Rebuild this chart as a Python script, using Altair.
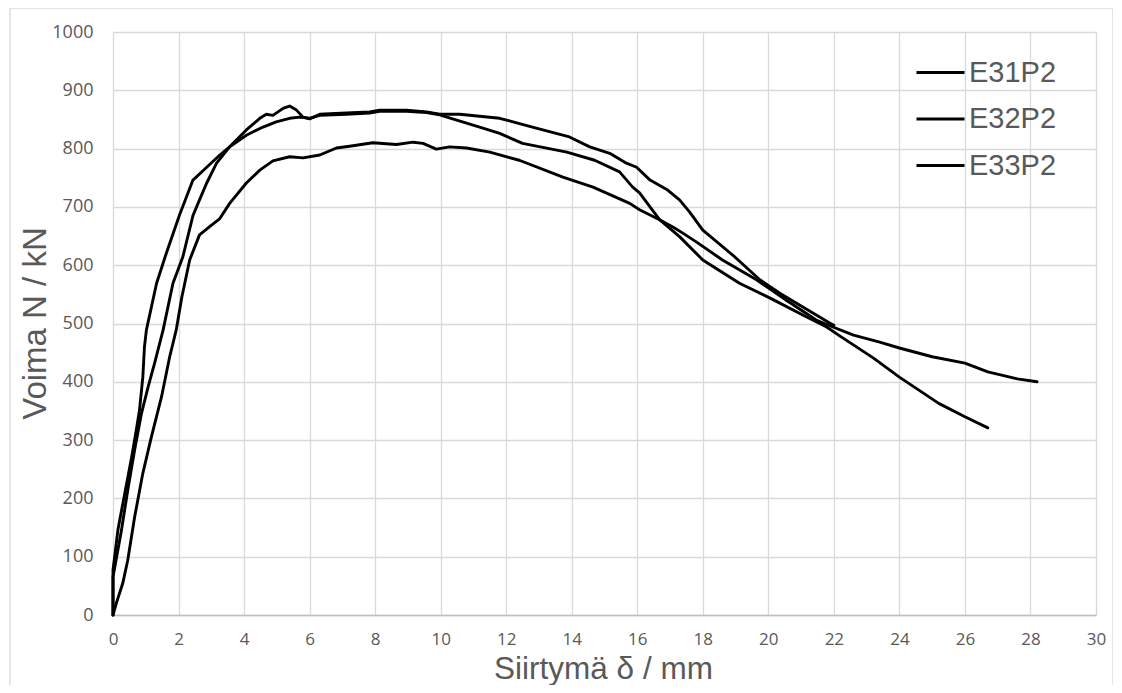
import altair as alt
import pandas as pd

series_names = ["E31P2", "E32P2", "E33P2"]

e31_x = [0, 0, 0.26, 0.45, 0.66, 0.87, 1.07, 1.27, 1.53, 1.83, 2.13, 2.44, 2.64, 2.86, 3.16, 3.56,
         4.07, 4.48, 4.68, 4.88, 5.19, 5.39, 5.6, 5.8, 6.0, 6.31, 7.12, 7.83, 8.14, 8.96, 9.57, 9.97,
         10.58, 11.8, 12.8, 13.93, 14.55, 15.16, 15.67, 15.98, 16.39, 16.9, 17.29, 17.6, 18.0, 18.92,
         19.74, 20.35, 21.36, 21.87, 22.0]
e31_y = [0, 65, 146, 214, 283, 346, 391, 432, 489, 569, 614, 685, 712, 741, 775, 803,
         832, 852, 859, 857, 869, 873, 866, 854, 851, 859, 861, 863, 866, 866, 863, 859,
         859, 852, 837, 820, 803, 792, 775, 768, 746, 730, 712, 691, 660, 617,
         575, 552, 518, 501, 497]

e32_x = [0, 0, 0.15, 0.36, 0.57, 0.71, 0.81, 0.91, 0.96, 1.02, 1.33, 1.63, 2.03, 2.44, 2.86, 3.26,
         3.56, 4.07, 4.58, 4.98, 5.39, 5.7, 6.0, 6.31, 7.12, 7.83, 8.14, 8.96, 9.57, 9.97, 10.49,
         11.19, 11.8, 12.5, 13.85, 14.7, 15.46, 15.86, 16.07, 16.68, 17.29, 18.0, 19.12, 20.04,
         21.17, 21.78, 22.2, 23.2, 24.0, 25.2, 26.0, 26.7]
e32_y = [0, 77, 146, 209, 271, 317, 352, 408, 460, 489, 569, 621, 686, 746, 768, 789,
         803, 823, 837, 846, 852, 854, 852, 857, 859, 861, 864, 864, 862, 858, 849,
         837, 826, 809, 794, 780, 760, 734, 724, 678, 649, 609, 569, 544,
         511, 494, 478, 441, 408, 363, 340, 321]

e33_x = [0, 0.1, 0.3, 0.45, 0.66, 0.91, 1.17, 1.48, 1.73, 1.93, 2.1, 2.34, 2.64, 2.95, 3.26, 3.56,
         4.07, 4.48, 4.88, 5.39, 5.8, 6.31, 6.82, 7.22, 7.93, 8.65, 9.16, 9.46, 9.87, 10.27, 10.79,
         11.5, 12.4, 13.73, 14.65, 15.77, 16.07, 16.68, 17.1, 17.39, 17.8, 18.6, 19.64, 20.55,
         21.46, 21.97, 22.6, 23.4, 24.0, 25.0, 26.0, 26.7, 27.6, 28.2]
e33_y = [0, 20, 55, 94, 168, 243, 305, 374, 443, 489, 545, 609, 652, 666, 680, 706,
         741, 763, 779, 786, 784, 789, 801, 804, 810, 807, 811, 809, 799, 803, 801,
         794, 780, 751, 734, 706, 695, 678, 665, 655, 640, 609, 575, 540,
         506, 494, 480, 468, 458, 443, 432, 417, 405, 400]

x_ticks = list(range(0, 31, 2))
y_ticks = list(range(0, 1001, 100))

rows = []
for name, xs, ys in zip(series_names, [e31_x, e32_x, e33_x], [e31_y, e32_y, e33_y]):
    for i, (xv, yv) in enumerate(zip(xs, ys)):
        rows.append({"series": name, "d": xv, "N": yv, "i": i})
df = pd.DataFrame(rows)

GRID = "#d9d9d9"
TXT = "#595959"

lines = alt.Chart(df).mark_line(strokeWidth=2.9, strokeCap="round", strokeJoin="round").encode(
    x=alt.X("d:Q",
            scale=alt.Scale(domain=[0, 30], nice=False, zero=False),
            axis=alt.Axis(values=x_ticks, format="d", title="Siirtymä δ / mm", labelPadding=16,
                          labelFlush=False, labelFontSize=17,
                          domainColor="#bfbfbf", domainWidth=1.3,
                          titleX=490, titleY=63, titleFontSize=31.5,
                          titleBaseline="alphabetic", titleAlign="center")),
    y=alt.Y("N:Q",
            scale=alt.Scale(domain=[0, 1000], nice=False),
            axis=alt.Axis(values=y_ticks, format="d", title="Voima N / kN", labelPadding=20,
                          domain=False, labelFlush=False,
                          titleX=-68, titleY=291, titleAngle=270, titleBaseline="alphabetic",
                          titleAlign="center")),
    color=alt.Color("series:N",
                    scale=alt.Scale(domain=series_names, range=["#000000", "#000000", "#000000"]),
                    legend=alt.Legend(orient="none", legendX=802, legendY=15, title=None,
                                      symbolType="stroke", symbolSize=2304, symbolStrokeWidth=3,
                                      labelFontSize=29, labelFont="Liberation Sans",
                                      labelColor=TXT, labelOffset=3, rowPadding=5.5, padding=0)),
    order="i:Q",
)

frame = alt.Chart(pd.DataFrame({"a": [0]})).mark_rect(
    fill="transparent", stroke=GRID, strokeWidth=1.3
).encode(
    x=alt.value(-103), x2=alt.value(1000), y=alt.value(-24), y2=alt.value(700)
)

chart = alt.layer(frame, lines).properties(
    width=983, height=583,
    autosize=alt.AutoSizeParams(type="none"),
    padding={"left": 105, "top": 24, "right": 17, "bottom": 70},
    background="white",
).configure_view(
    strokeWidth=0
).configure_axis(
    grid=True, gridColor=GRID, gridWidth=1.3, ticks=False,
    labelColor=TXT, labelFont="Open Sans", labelFontSize=18,
    titleColor=TXT, titleFont="Liberation Sans", titleFontSize=33, titleFontWeight="normal",
)

chart.save("out.html", embed_options={"renderer": "svg", "actions": False})
